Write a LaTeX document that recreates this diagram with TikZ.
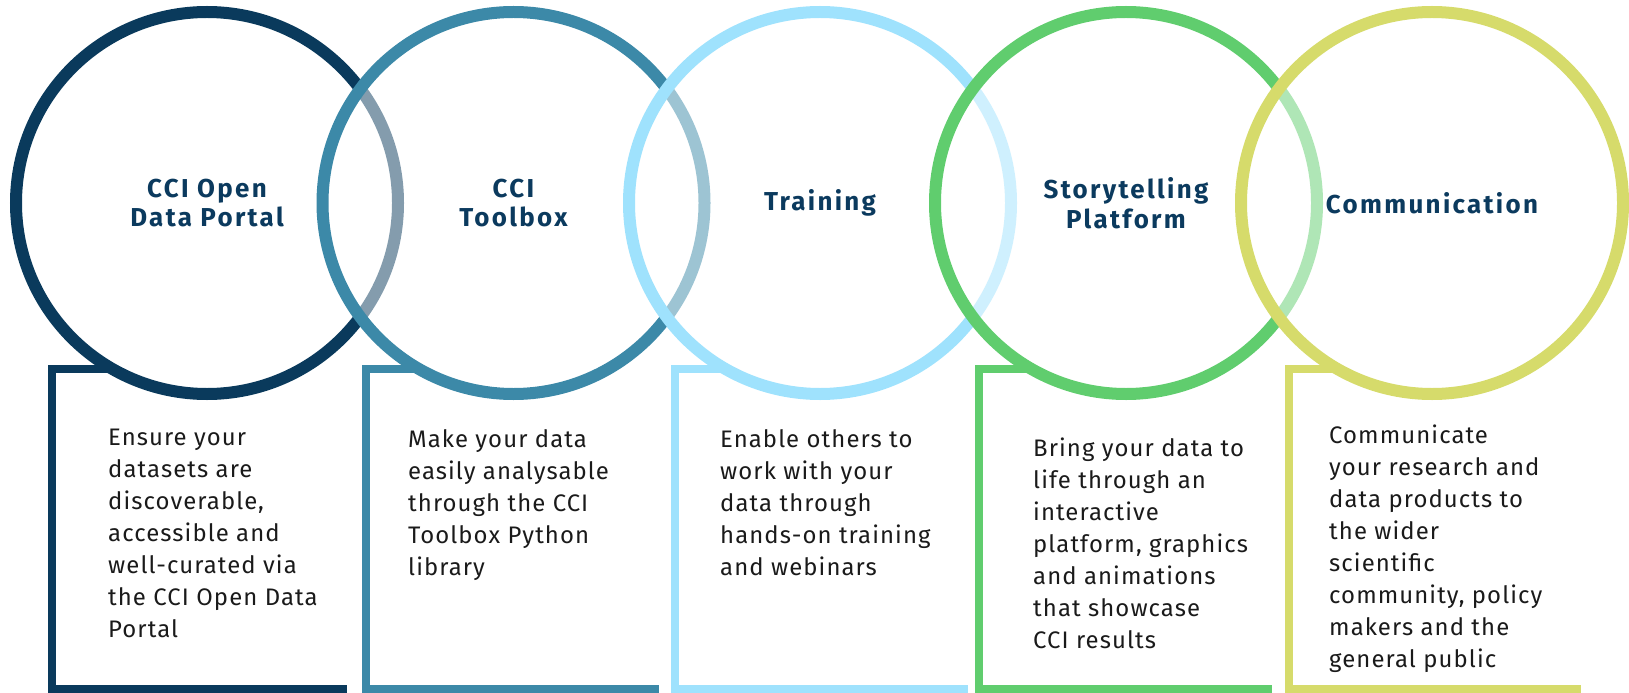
\documentclass[tikz,border=0pt]{standalone}
\usepackage{fontspec}
\setmainfont{Fira Sans}[LetterSpace=4.5]
\newfontfamily\headfont{Fira Sans}[LetterSpace=9]
\usetikzlibrary{positioning}

\definecolor{cnavy}{HTML}{0A3A5C}
\definecolor{cteal}{HTML}{3C89A8}
\definecolor{csky}{HTML}{9FE2FD}
\definecolor{cgreen}{HTML}{60CD6E}
\definecolor{clime}{HTML}{D6DB6B}
\definecolor{titleblue}{HTML}{0B3A5E}
\definecolor{bodyblack}{HTML}{1A1A1A}

\begin{document}
\begin{tikzpicture}[x=1bp,y=-1bp,
    ring/.style={circle,draw=#1,line width=12bp,minimum size=382bp,inner sep=0pt,
        fill=white,fill opacity=0.5,text opacity=1,text=titleblue,align=center,
        font=\headfont\bfseries\fontsize{26}{30}\selectfont},
    panel/.style={draw=#1,line width=8bp},
    note/.style={anchor=base west,inner sep=0pt,align=left,text=bodyblack,
        font=\fontsize{24}{32}\selectfont}]
    \useasboundingbox (0,0) rectangle (1629,693);
    % boxes under the circles
    \draw[panel=cnavy] (112.5,369)--(52,369)--(52,689)--(347,689);
    \draw[panel=cteal] (419,369)--(366,369)--(366,689)--(659,689);
    \draw[panel=csky] (725.5,369)--(675,369)--(675,689)--(968,689);
    \draw[panel=cgreen] (1031.5,369)--(979,369)--(979,689)--(1272,689);
    \draw[panel=clime] (1337.5,369)--(1289,369)--(1289,689)--(1581,689);
    % circles, left to right
    \foreach \n/\x/\col/\txt in {1/207/cnavy/{CCI Open\\Data Portal},
            2/513.5/cteal/{CCI\\Toolbox},
            3/820/csky/{Training},
            4/1126/cgreen/{Storytelling\\Platform},
            5/1432/clime/{Communication}}{
        \node[ring=\col] (c\n) at (\x,203) {\txt};
    }
    % texts, placed at the baseline of their last line
    \node[note] (t1) at (108,637) {Ensure your\\datasets are\\discoverable,\\accessible and\\well-curated via\\the CCI Open Data\\Portal};
    \node[note] (t2) at (408,575) {Make your data\\easily analysable\\through the CCI\\Toolbox Python\\library};
    \node[note] (t3) at (720,575) {Enable others to\\work with your\\data through\\hands-on training\\and webinars};
    \node[note] (t4) at (1033,648) {Bring your data to\\life through an\\interactive\\platform, graphics\\and animations\\that showcase\\CCI results};
    \node[note] (t5) at (1329,667) {Communicate\\your research and\\data products to\\the wider\\scientific\\community, policy\\makers and the\\general public};
\end{tikzpicture}
\end{document}
